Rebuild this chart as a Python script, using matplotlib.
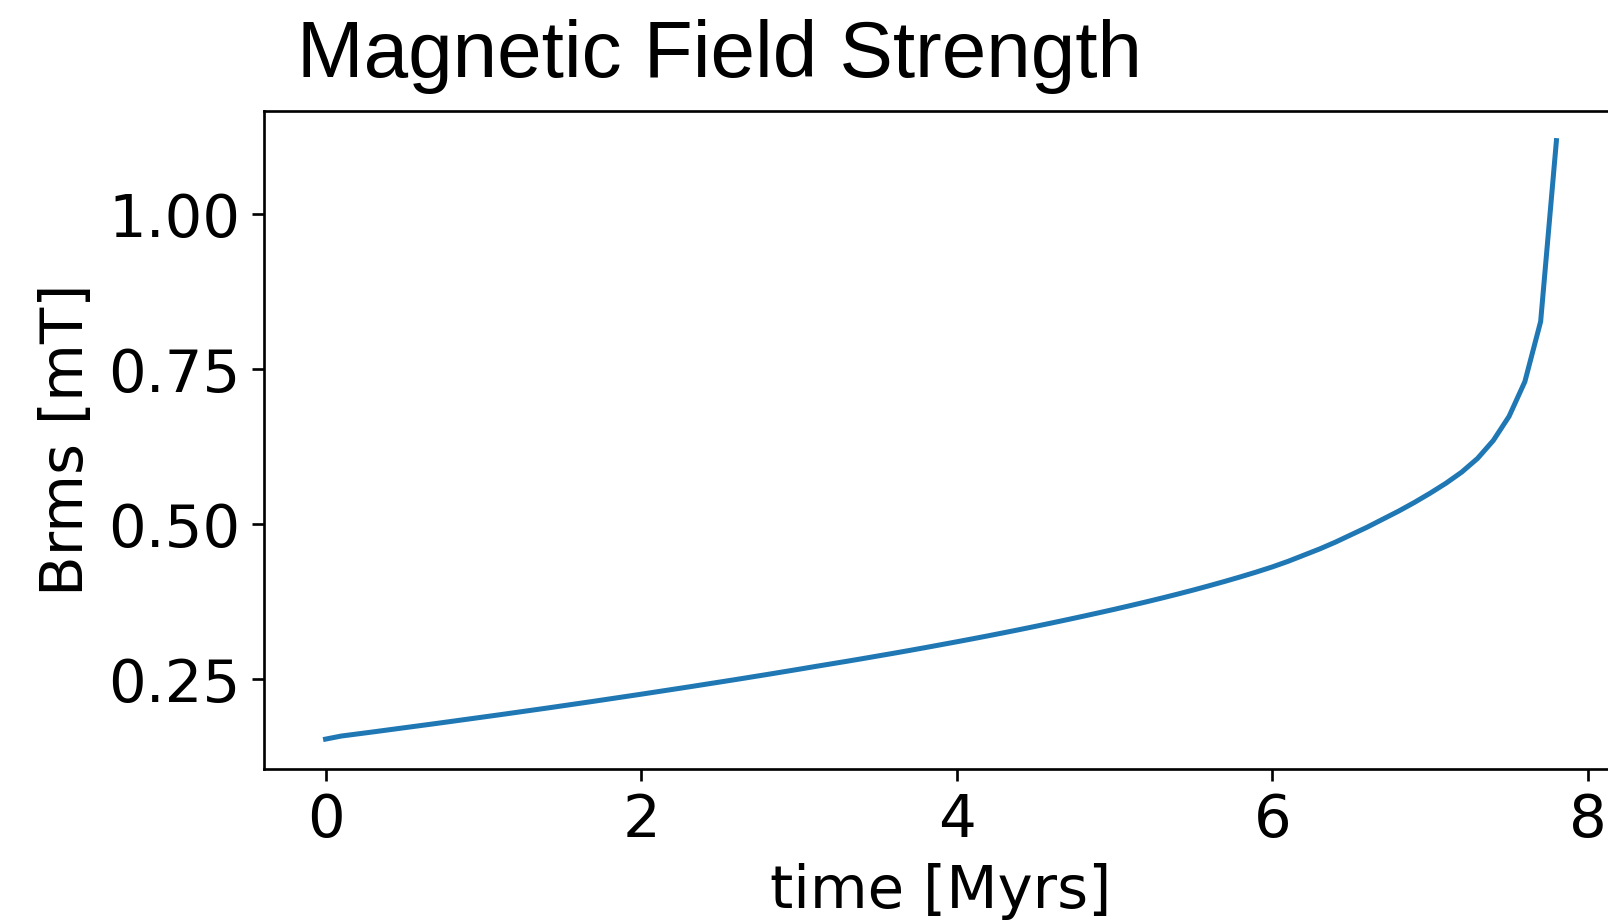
import matplotlib
matplotlib.use("Agg")
import matplotlib.pyplot as plt

# Simulation time in Myrs
time_myrs = [
    0.0, 0.1, 0.2, 0.3, 0.4, 0.5, 0.6, 0.7, 0.8, 0.9,
    1.0, 1.1, 1.2, 1.3, 1.4, 1.5, 1.6, 1.7, 1.8, 1.9,
    2.0, 2.1, 2.2, 2.3, 2.4, 2.5, 2.6, 2.7, 2.8, 2.9,
    3.0, 3.1, 3.2, 3.3, 3.4, 3.5, 3.6, 3.7, 3.8, 3.9,
    4.0, 4.1, 4.2, 4.3, 4.4, 4.5, 4.6, 4.7, 4.8, 4.9,
    5.0, 5.1, 5.2, 5.3, 5.4, 5.5, 5.6, 5.7, 5.8, 5.9,
    6.0, 6.1, 6.2, 6.3, 6.4, 6.5, 6.6, 6.7, 6.8, 6.9,
    7.0, 7.1, 7.2, 7.3, 7.4, 7.5, 7.6, 7.7, 7.8,
]

# RMS magnetic field in mT
brms_mt = [
    0.1530, 0.1580, 0.1613, 0.1646, 0.1680, 0.1714, 0.1748, 0.1782, 0.1817, 0.1852,
    0.1887, 0.1922, 0.1958, 0.1994, 0.2030, 0.2067, 0.2104, 0.2141, 0.2179, 0.2217,
    0.2255, 0.2294, 0.2333, 0.2372, 0.2412, 0.2452, 0.2492, 0.2533, 0.2574, 0.2616,
    0.2658, 0.2701, 0.2743, 0.2785, 0.2828, 0.2872, 0.2916, 0.2961, 0.3007, 0.3054,
    0.3101, 0.3149, 0.3198, 0.3248, 0.3299, 0.3351, 0.3404, 0.3458, 0.3513, 0.3569,
    0.3626, 0.3685, 0.3745, 0.3807, 0.3871, 0.3937, 0.4006, 0.4077, 0.4151, 0.4228,
    0.4310, 0.4400, 0.4500, 0.4600, 0.4710, 0.4830, 0.4950, 0.5080, 0.5210, 0.5350,
    0.5500, 0.5660, 0.5840, 0.6060, 0.6350, 0.6740, 0.7300, 0.8270, 1.1190,
]

FS = 17.8

fig = plt.figure(figsize=(6.7, 3.85), dpi=240)
ax = fig.add_axes([0.1642, 0.1677, 0.8420, 0.7125])

ax.plot(time_myrs, brms_mt, color="#1f77b4", linewidth=1.5)

ax.set_xticks([0, 2, 4, 6, 8])
ax.set_yticks([0.25, 0.50, 0.75, 1.00])
ax.set_yticklabels(["0.25", "0.50", "0.75", "1.00"])
ax.tick_params(labelsize=FS)

ax.set_xlabel("time [Myrs]", fontsize=FS)
ax.set_ylabel("Brms [mT]", fontsize=FS)

fig.text(297 / 1608, 1 - 77 / 924, "Magnetic Field Strength",
         family="Liberation Sans", fontsize=24, ha="left", va="baseline")

fig.savefig("out.png", dpi=240)
